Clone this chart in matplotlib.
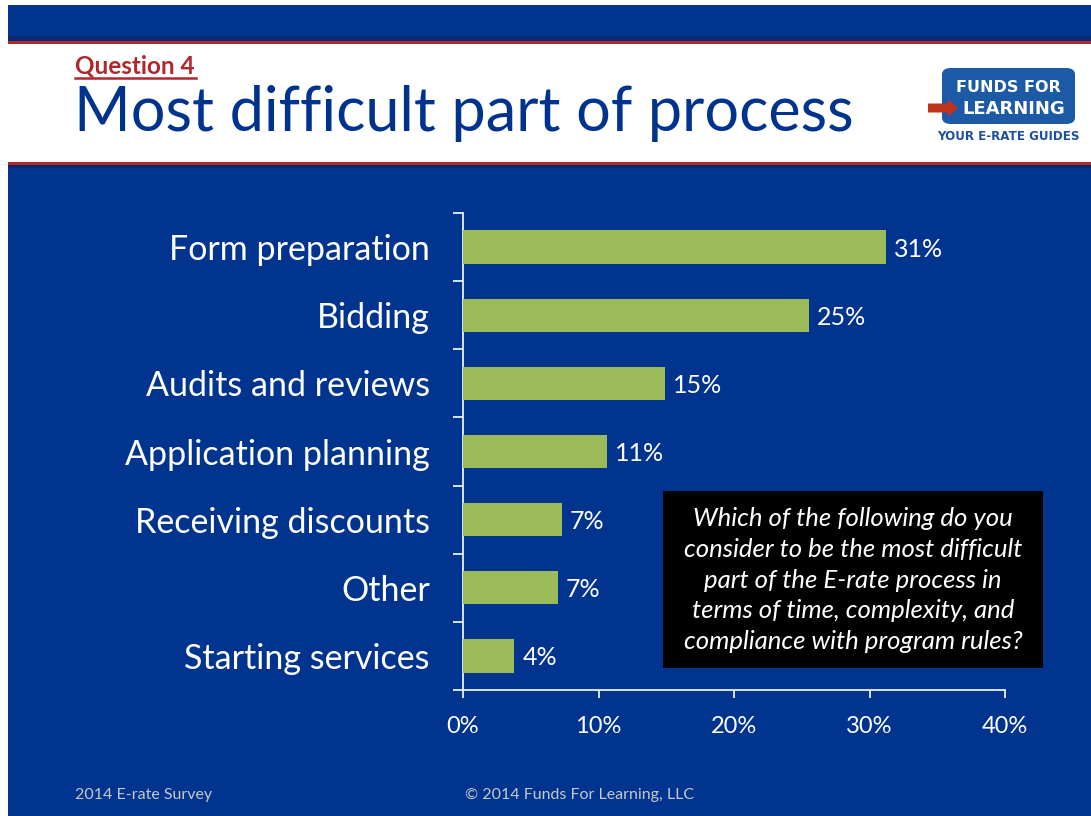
import matplotlib.pyplot as plt
from matplotlib.patches import Rectangle, FancyBboxPatch, FancyArrow
import numpy as np

categories = ['Form preparation', 'Bidding', 'Audits and reviews', 'Application planning',
              'Receiving discounts', 'Other', 'Starting services']
values = [31.2, 25.5, 14.9, 10.6, 7.3, 7.0, 3.8]
value_labels = ['31%', '25%', '15%', '11%', '7%', '7%', '4%']
xticks = [0, 10, 20, 30, 40]
xtick_labels = ['0%', '10%', '20%', '30%', '40%']

W, H = 1091, 816
BLUE = '#00348f'
TITLE_BLUE = '#00338d'
RED = '#b0282d'
GREEN = '#9bbb59'
FONT = ['Lato', 'DejaVu Sans']

plt.rcParams['font.family'] = FONT

fig = plt.figure(figsize=(W / 100, H / 100), dpi=100)
fig.patch.set_facecolor('white')


def box(x0, y0, x1, y1, color, z=0):
    # pixel coords, y measured from top
    fig.patches.append(Rectangle((x0 / W, 1 - y1 / H), (x1 - x0) / W, (y1 - y0) / H,
                                 transform=fig.transFigure, color=color, zorder=z, lw=0))


# header bands
box(8, 5, W, 38, BLUE)
box(8, 36, W, 41, '#0a2a70')
box(8, 41, W, 44, RED)
box(8, 162, W, 165, RED)
box(8, 165, W, 170, '#0a2a70')
box(8, 168, W, H, BLUE)

fig.text(75 / W, 1 - 66 / H, 'Question 4', color=RED, fontsize=17.5, fontweight='bold',
         va='center', ha='left')
fig.lines.append(plt.Line2D([75 / W, 196 / W], [1 - 78 / H, 1 - 78 / H],
                            transform=fig.transFigure, color=RED, lw=1.8))
fig.text(74 / W, 1 - 114 / H, 'Most difficult part of process', color=TITLE_BLUE,
         fontsize=44, va='center', ha='left')

# logo
LOGO_FONT = ['DejaVu Sans']
fig.patches.append(FancyBboxPatch((942 / W, 1 - 124 / H), 133 / W, 56 / H,
                                  boxstyle='round,pad=0,rounding_size=0.008',
                                  transform=fig.transFigure, color='#1c5aa6', lw=0))
fig.text(1008 / W, 1 - 88 / H, 'FUNDS FOR', color='white', fontsize=11.5,
         fontweight='bold', ha='center', va='center', family=LOGO_FONT)
fig.text(1014 / W, 1 - 109 / H, 'LEARNING', color='white', fontsize=13,
         fontweight='bold', ha='center', va='center', family=LOGO_FONT)
fig.patches.append(FancyArrow(928 / W, 1 - 108 / H, 20 / W, 0, width=9 / H,
                              head_width=17 / H, head_length=10 / W,
                              transform=fig.transFigure, color='#c0341d', lw=0, zorder=3))
fig.text(1008 / W, 1 - 136 / H, 'YOUR E-RATE GUIDES', color='#1c4fa0', fontsize=8.6,
         fontweight='bold', ha='center', va='center', family=LOGO_FONT)

# chart
ax = fig.add_axes([463 / W, 1 - 690 / H, (1005 - 463) / W, (690 - 213) / H])
ax.set_zorder(3)
ax.set_facecolor(BLUE)
ypos = np.arange(len(categories))
ax.barh(ypos, values, height=0.49, color=GREEN, zorder=3)
for y, v, lab in zip(ypos, values, value_labels):
    ax.text(v + 0.6, y + 0.03, lab, color='white', fontsize=18, va='center', ha='left')

ax.set_xlim(0, 40)
ax.set_ylim(len(categories) - 0.5, -0.5)
ax.set_xticks(xticks)
ax.set_xticklabels(xtick_labels, color='white', fontsize=17)
ax.set_yticks(ypos)
ax.set_yticklabels(categories, color='white', fontsize=24.5)
ax.set_yticks(np.arange(len(categories) + 1) - 0.5, minor=True)
ax.tick_params(axis='y', which='major', length=0, pad=24)
ax.tick_params(axis='y', which='minor', length=7, color='white', width=1.2)
ax.tick_params(axis='x', length=6, color='white', width=1.2, pad=13)
for s in ['top', 'right']:
    ax.spines[s].set_visible(False)
for s in ['left', 'bottom']:
    ax.spines[s].set_color('white')
    ax.spines[s].set_linewidth(1.2)

# question box
box(663, 491, 1043, 668, 'black', z=5)
fig.text(853 / W, 1 - 580 / H,
         'Which of the following do you\nconsider to be the most difficult\n'
         'part of the E-rate process in\nterms of time, complexity, and\n'
         'compliance with program rules?',
         color='white', fontsize=18.5, style='italic', ha='center', va='center',
         linespacing=1.42, zorder=6)

# footer
fig.text(75 / W, 1 - 795 / H, '2014 E-rate Survey', color='#c8c8c8', fontsize=11.5,
         ha='left', va='center')
fig.text(465 / W, 1 - 795 / H, '\u00a9 2014 Funds For Learning, LLC', color='#c8c8c8',
         fontsize=11.5, ha='left', va='center')

fig.savefig('out.png', dpi=100, facecolor=fig.get_facecolor())
